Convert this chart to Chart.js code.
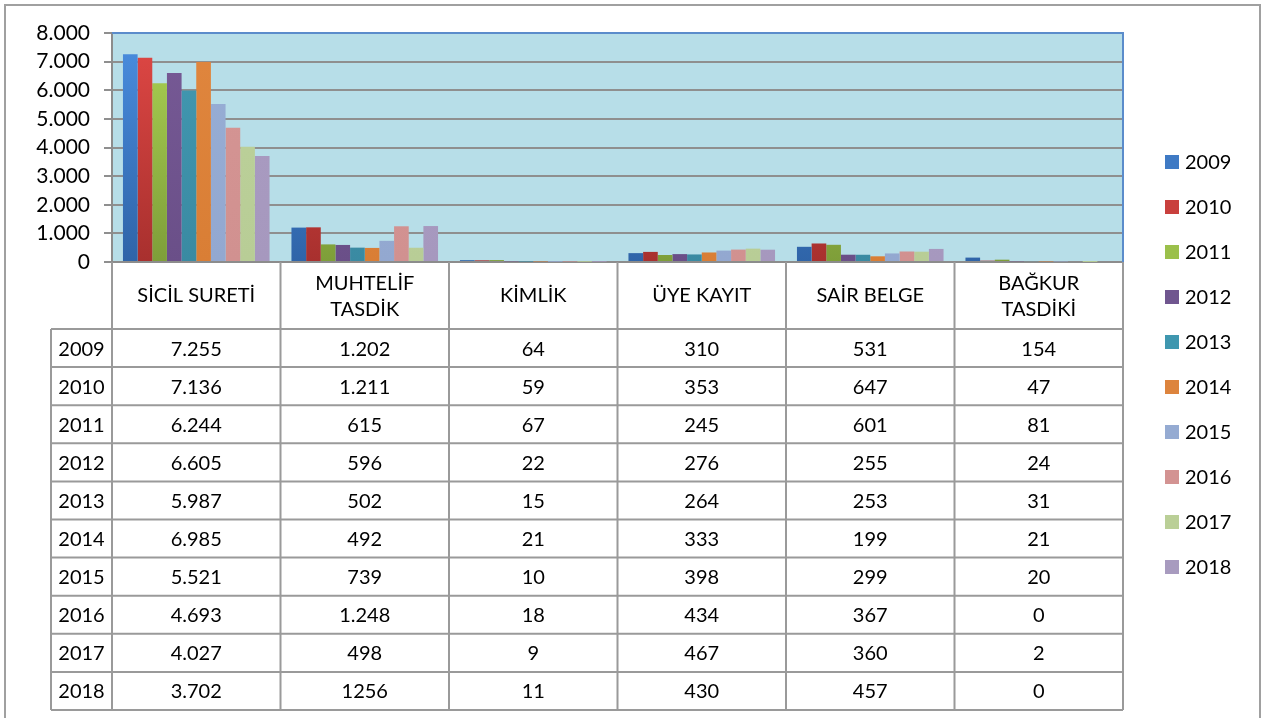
<!DOCTYPE html>
<html>
<head>
<meta charset="utf-8">
<script src="https://cdn.jsdelivr.net/npm/chart.js@4/dist/chart.umd.min.js"></script>
<style>
html,body{margin:0;padding:0;background:#fff;}
#wrap{position:relative;width:1270px;height:718px;}
</style>
</head>
<body>
<div id="wrap"><canvas id="c" width="1270" height="718"></canvas></div>
<script>
const categories = ["SİCİL SURETİ", ["MUHTELİF", "TASDİK"], "KİMLİK", "ÜYE KAYIT", "SAİR BELGE", ["BAĞKUR", "TASDİKİ"]];
const years = ["2009","2010","2011","2012","2013","2014","2015","2016","2017","2018"];
const v2009 = [7255, 1202, 64, 310, 531, 154];
const v2010 = [7136, 1211, 59, 353, 647, 47];
const v2011 = [6244, 615, 67, 245, 601, 81];
const v2012 = [6605, 596, 22, 276, 255, 24];
const v2013 = [5987, 502, 15, 264, 253, 31];
const v2014 = [6985, 492, 21, 333, 199, 21];
const v2015 = [5521, 739, 10, 398, 299, 20];
const v2016 = [4693, 1248, 18, 434, 367, 0];
const v2017 = [4027, 498, 9, 467, 360, 2];
const v2018 = [3702, 1256, 11, 430, 457, 0];
const tableText = [
  ["7.255","1.202","64","310","531","154"],
  ["7.136","1.211","59","353","647","47"],
  ["6.244","615","67","245","601","81"],
  ["6.605","596","22","276","255","24"],
  ["5.987","502","15","264","253","31"],
  ["6.985","492","21","333","199","21"],
  ["5.521","739","10","398","299","20"],
  ["4.693","1.248","18","434","367","0"],
  ["4.027","498","9","467","360","2"],
  ["3.702","1256","11","430","457","0"]
];
const yTicks = [0,1000,2000,3000,4000,5000,6000,7000,8000];
const seriesValues = [v2009,v2010,v2011,v2012,v2013,v2014,v2015,v2016,v2017,v2018];
const colors = [
  ["#4A8EE0","#2F64A8"],
  ["#E04845","#A8302E"],
  ["#ABD253","#7E9E39"],
  ["#775A96","#6A4F88"],
  ["#4299B2","#3A8AA2"],
  ["#E0863E","#D97E35"],
  ["#97AED5","#93A8D0"],
  ["#D59594","#D19190"],
  ["#BCD19A","#B8CD96"],
  ["#AA9CC2","#A698BE"]
];
const legendColors = ["#3F7AC4","#C9403D","#9BC04B","#70568F","#3F97AF","#DD843D","#95ABD2","#D39392","#BACF97","#A89BBF"];

const FONT = "Lato, 'Open Sans', sans-serif";
const PLOT = {left:112, top:33, right:1123, bottom:262};

function grad(ctx, i){
  const ch = ctx.chart;
  const ca = ch.chartArea;
  if(!ca) return colors[i][0];
  const g = ch.ctx.createLinearGradient(0, ca.top, 0, ca.bottom);
  g.addColorStop(0, colors[i][0]);
  g.addColorStop(1, colors[i][1]);
  return g;
}

const datasets = years.map((y,i)=>({
  label: y,
  data: seriesValues[i],
  backgroundColor: (ctx)=>grad(ctx,i),
  borderWidth: 0,
  categoryPercentage: 0.87,
  barPercentage: 1.0
}));

const tablePlugin = {
  id: 'tablePlugin',
  beforeDraw(chart){
    const c = chart.ctx;
    const ca = chart.chartArea;
    c.save();
    c.fillStyle = '#fff';
    c.fillRect(0,0,chart.width,chart.height);
    c.fillStyle = '#B7DEE8';
    c.fillRect(ca.left, ca.top, ca.right-ca.left, ca.bottom-ca.top);
    c.restore();
  },
  afterDraw(chart){
    const c = chart.ctx;
    const ca = chart.chartArea;
    const xs = chart.scales.x;
    c.save();
    c.strokeStyle = '#A0A0A0';
    c.lineWidth = 2;
    c.strokeRect(5, 5, 1255, 730);
    c.strokeStyle = '#5B8CCB';
    c.lineWidth = 2;
    c.beginPath();
    c.moveTo(ca.left, ca.top); c.lineTo(ca.right, ca.top); c.lineTo(ca.right, ca.bottom);
    c.stroke();
    const n = categories.length;
    const bounds = [];
    for(let k=0;k<=n;k++){
      if(k===0) bounds.push(ca.left);
      else if(k===n) bounds.push(ca.right);
      else bounds.push((xs.getPixelForValue(k-1)+xs.getPixelForValue(k))/2);
    }
    const headTop = ca.bottom, headBot = 329;
    const rowH = (710-329)/10;
    const yearLeft = 51;
    c.strokeStyle = '#9A9A9A';
    c.lineWidth = 2;
    c.beginPath();
    for(let k=0;k<=n;k++){
      c.moveTo(bounds[k], headTop); c.lineTo(bounds[k], 710);
    }
    c.moveTo(yearLeft, headBot); c.lineTo(yearLeft, 710);
    c.moveTo(ca.left, headBot); c.lineTo(yearLeft, headBot);
    for(let r=0;r<=10;r++){
      const yy = headBot + r*rowH;
      c.moveTo(yearLeft, yy); c.lineTo(ca.right, yy);
    }
    c.stroke();
    c.fillStyle = '#000';
    c.font = '20px ' + FONT;
    c.textAlign = 'center';
    c.textBaseline = 'middle';
    for(let k=0;k<n;k++){
      const cx = (bounds[k]+bounds[k+1])/2;
      const lbl = categories[k];
      if(Array.isArray(lbl)){
        c.fillText(lbl[0], cx, 284);
        c.fillText(lbl[1], cx, 310);
      } else {
        c.fillText(lbl, cx, 296);
      }
    }
    for(let r=0;r<10;r++){
      const cy = headBot + r*rowH + rowH/2 + 1;
      c.fillText(years[r], (yearLeft+ca.left)/2, cy);
      for(let k=0;k<n;k++){
        const cx = (bounds[k]+bounds[k+1])/2;
        c.fillText(tableText[r][k], cx, cy);
      }
    }
    c.textAlign = 'left';
    for(let i=0;i<years.length;i++){
      const ly = 162 + i*45;
      c.fillStyle = legendColors[i];
      c.fillRect(1165, ly-7, 14, 14);
      c.fillStyle = '#000';
      c.fillText(years[i], 1185, ly+1);
    }
    c.restore();
  }
};

new Chart(document.getElementById('c'), {
  type: 'bar',
  data: { labels: categories, datasets },
  options: {
    responsive: false,
    animation: false,
    layout: { padding: { left: 0, top: PLOT.top, right: 1270-PLOT.right, bottom: 718-PLOT.bottom } },
    plugins: { legend: { display: false }, tooltip: { enabled: false } },
    scales: {
      x: {
        display: true,
        ticks: { display: false },
        grid: { display: false, drawTicks: false },
        border: { display: true, color: '#8C8C8C', width: 2 }
      },
      y: {
        min: 0, max: 8000,
        afterFit(s){ s.width = PLOT.left; },
        afterBuildTicks(s){ s.ticks = yTicks.map(v=>({value:v})); },
        ticks: {
          color: '#000',
          font: { family: FONT, size: 21 },
          padding: 14,
          callback: (v)=> v===0 ? '0' : (v/1000) + '.000'
        },
        grid: { color: '#8F8F8F', lineWidth: 2, tickLength: 8, drawTicks: true },
        border: { display: true, color: '#8C8C8C', width: 2 }
      }
    }
  },
  plugins: [tablePlugin]
});
</script>
</body>
</html>
